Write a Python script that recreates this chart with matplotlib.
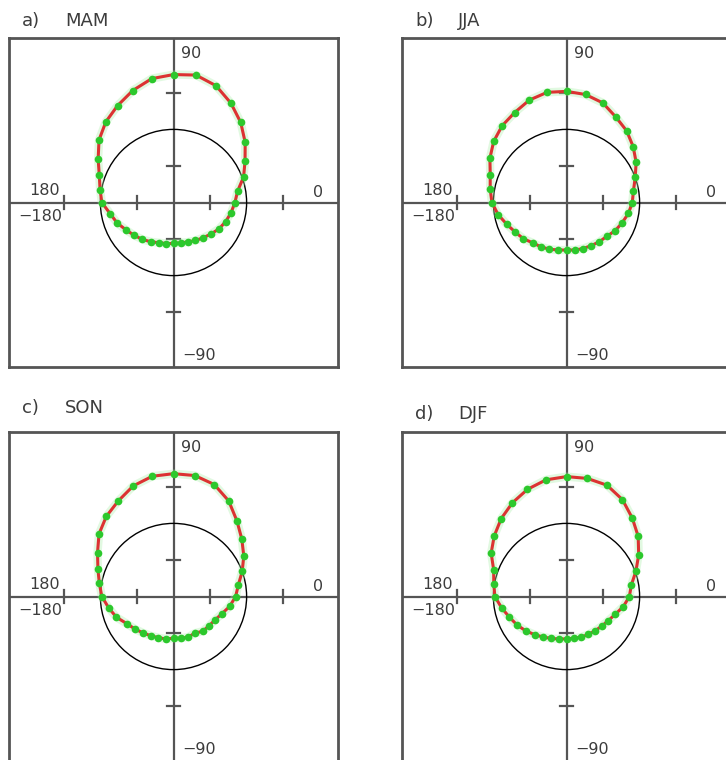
import numpy as np
import matplotlib.pyplot as plt
from matplotlib.patches import Circle

# Phase of the harmonic (degrees, 0 = east, 90 = north)
PHASE_DEG = [0, 10, 20, 30, 40, 50, 60, 70, 80, 90, 100, 110,
             120, 130, 140, 150, 160, 170, 180, 190, 200, 210, 220, 230,
             240, 250, 260, 270, 280, 290, 300, 310, 320, 330, 340, 350]

# Normalised amplitude at each phase, one list per season
AMP_MAM = [0.84, 0.89, 1.02, 1.13, 1.28, 1.43, 1.57, 1.70, 1.77, 1.75, 1.72, 1.63,
           1.53, 1.44, 1.33, 1.19, 1.08, 1.02, 0.98, 0.88, 0.82, 0.75, 0.70, 0.66,
           0.62, 0.585, 0.57, 0.56, 0.56, 0.575, 0.60, 0.63, 0.67, 0.72, 0.76, 0.80]
AMP_JJA = [0.90, 0.93, 1.00, 1.10, 1.19, 1.28, 1.35, 1.45, 1.50, 1.52, 1.53, 1.49,
           1.42, 1.37, 1.30, 1.21, 1.11, 1.06, 1.02, 0.95, 0.87, 0.81, 0.77, 0.72,
           0.70, 0.68, 0.66, 0.65, 0.66, 0.67, 0.68, 0.70, 0.72, 0.77, 0.81, 0.86]
AMP_SON = [0.85, 0.90, 1.00, 1.11, 1.22, 1.35, 1.51, 1.63, 1.68, 1.68, 1.67, 1.61,
           1.51, 1.43, 1.33, 1.20, 1.10, 1.03, 0.98, 0.90, 0.83, 0.74, 0.69, 0.65,
           0.62, 0.60, 0.59, 0.57, 0.58, 0.59, 0.58, 0.62, 0.63, 0.65, 0.70, 0.78]
AMP_DJF = [0.86, 0.90, 1.01, 1.14, 1.28, 1.40, 1.53, 1.62, 1.64, 1.64, 1.62, 1.56,
           1.48, 1.39, 1.29, 1.19, 1.06, 1.01, 0.98, 0.90, 0.83, 0.78, 0.73, 0.68,
           0.64, 0.61, 0.59, 0.58, 0.58, 0.59, 0.60, 0.61, 0.63, 0.66, 0.71, 0.79]

LETTERS = ["a)", "b)", "c)", "d)"]
SEASONS = ["MAM", "JJA", "SON", "DJF"]
AMPS = [AMP_MAM, AMP_JJA, AMP_SON, AMP_DJF]

W, H = 726, 760
BOX = 329
LIM = 2.25
CORNERS = [(9, 38), (402, 38), (9, 432), (402, 432)]
TITLE_Y = [21, 21, 408, 414]

AXIS_GREY = "#555555"
TEXT_GREY = "#3c3c3c"

fig = plt.figure(figsize=(W / 100, H / 100), dpi=100)

for (left, top), ty, letter, season, amp in zip(CORNERS, TITLE_Y, LETTERS, SEASONS, AMPS):
    ax = fig.add_axes([left / W, 1 - (top + BOX) / H, BOX / W, BOX / H])
    ax.set_xlim(-LIM, LIM)
    ax.set_ylim(-LIM, LIM)
    ax.set_xticks([])
    ax.set_yticks([])
    for spine in ax.spines.values():
        spine.set_color(AXIS_GREY)
        spine.set_linewidth(2)

    ax.axhline(0, color=AXIS_GREY, lw=1.6, zorder=1)
    ax.axvline(0, color=AXIS_GREY, lw=1.6, zorder=1)
    for t in (-1.5, -0.5, 0.5, 1.5):
        ax.plot([t, t], [-0.09, 0.09], color=AXIS_GREY, lw=1.6, zorder=1)
        ax.plot([-0.09, 0.09], [t, t], color=AXIS_GREY, lw=1.6, zorder=1)

    ax.add_patch(Circle((0, 0), 1.0, fill=False, ec="black", lw=1.0, zorder=2))

    phase = np.deg2rad(np.array(PHASE_DEG + PHASE_DEG[:1]))
    r = np.array(amp + amp[:1])
    x, y = r * np.cos(phase), r * np.sin(phase)
    ax.plot(x, y, color="#aaf0aa", lw=6, alpha=0.35, zorder=3)
    ax.plot(x, y, color="#dc3232", lw=2.2, zorder=4)
    ax.plot(x[:-1], y[:-1], "o", color="#2cc82c", ms=5.5, mec="none", zorder=5)

    fs = 11.5
    ax.text(0.1, 2.04, "90", ha="left", va="center", fontsize=fs, color=TEXT_GREY)
    ax.text(0.12, -2.09, "\u221290", ha="left", va="center", fontsize=fs, color=TEXT_GREY)
    ax.text(-1.55, 0.16, "180", ha="right", va="center", fontsize=fs, color=TEXT_GREY)
    ax.text(-1.52, -0.19, "\u2212180", ha="right", va="center", fontsize=fs, color=TEXT_GREY)
    ax.text(1.98, 0.14, "0", ha="center", va="center", fontsize=fs, color=TEXT_GREY)

    fig.text((left + 13) / W, 1 - ty / H, letter, ha="left", va="center",
             fontsize=13, color=TEXT_GREY)
    fig.text((left + 56) / W, 1 - ty / H, season, ha="left", va="center",
             fontsize=13, color=TEXT_GREY)

fig.savefig("out.png", dpi=100)
